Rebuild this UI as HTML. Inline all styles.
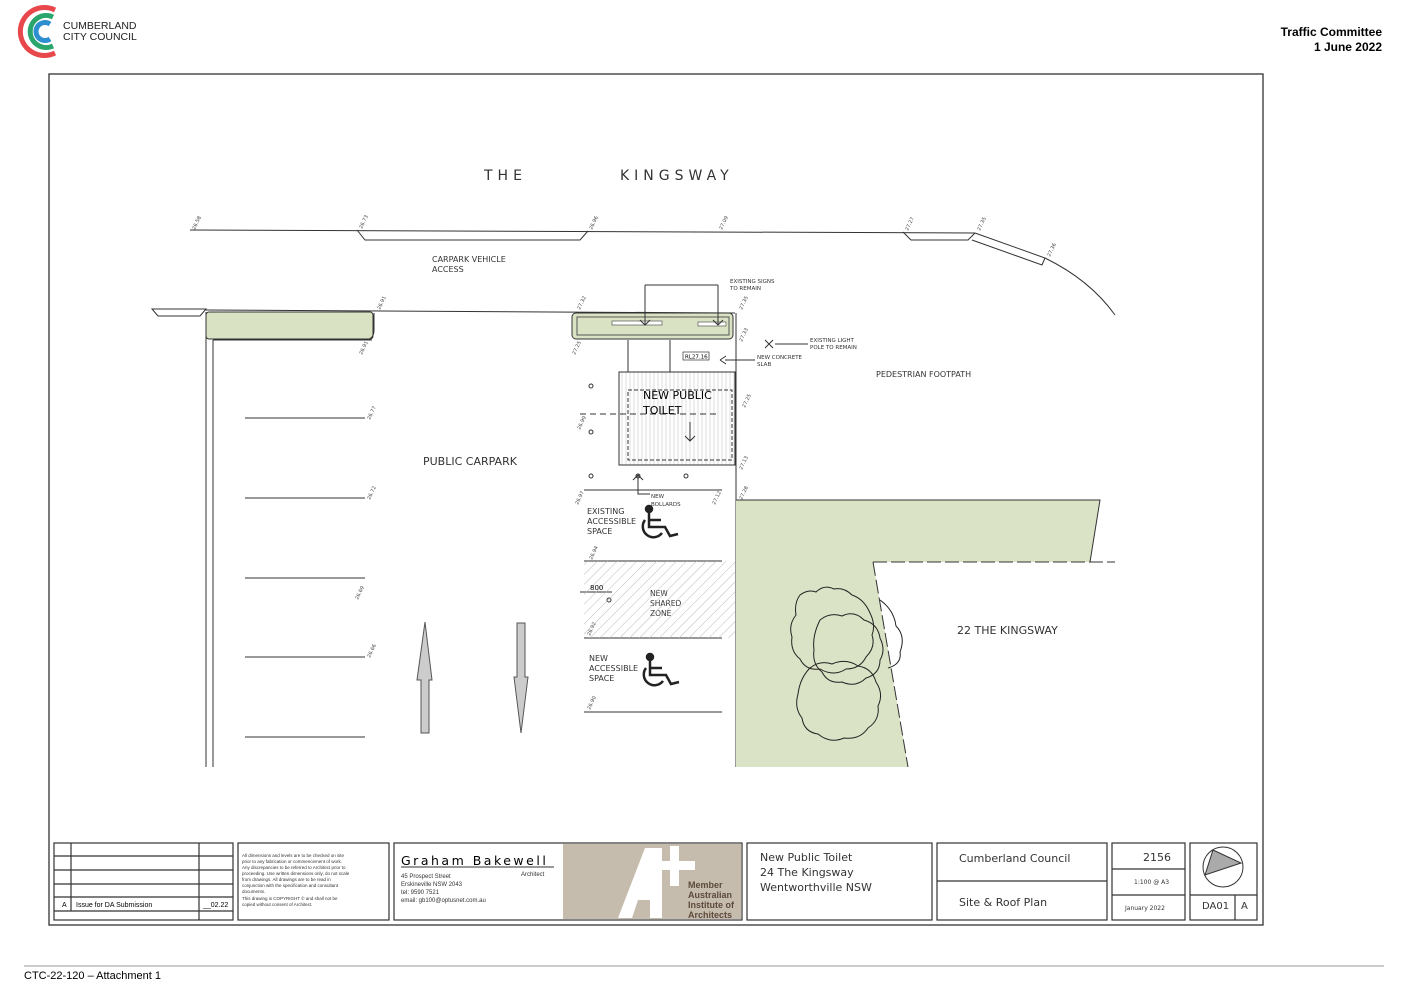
<!DOCTYPE html>
<html><head><meta charset="utf-8"><style>
html,body{margin:0;padding:0;background:#fff;}
svg{display:block;font-family:"Liberation Sans",sans-serif;}
.c{font-family:"DejaVu Sans","Liberation Sans",sans-serif;}
</style></head><body>
<svg width="1407" height="989" viewBox="0 0 1407 989" xmlns="http://www.w3.org/2000/svg">
<defs>
<pattern id="h" width="7" height="7" patternUnits="userSpaceOnUse" patternTransform="rotate(45)">
<line x1="0" y1="0" x2="0" y2="7" stroke="#bbb" stroke-width="1"/></pattern>
<pattern id="v" width="4" height="4" patternUnits="userSpaceOnUse">
<line x1="2" y1="0" x2="2" y2="4" stroke="#ddd" stroke-width="1"/></pattern>
</defs>
<!-- logo -->
<path d="M55 10 A24 24 0 1 0 55 53" fill="none" stroke="#e8484c" stroke-width="5"/>
<path d="M53 17 A16 16 0 1 0 53 46" fill="none" stroke="#2aa56b" stroke-width="5"/>
<path d="M50 24 A9 9 0 1 0 50 39" fill="none" stroke="#2e8fd0" stroke-width="5"/>
<text x="63" y="29" font-size="10.5" fill="#222">CUMBERLAND</text>
<text x="63" y="40" font-size="10.5" fill="#222">CITY COUNCIL</text>
<text x="1382" y="36" font-size="12" font-weight="bold" text-anchor="end">Traffic Committee</text>
<text x="1382" y="51" font-size="12" font-weight="bold" text-anchor="end">1 June 2022</text>
<!-- frame -->
<rect x="49" y="74" width="1214" height="851" fill="none" stroke="#333" stroke-width="1.3"/>
<line x1="24" y1="966" x2="1384" y2="966" stroke="#999" stroke-width="1"/>
<text x="24" y="979" font-size="11">CTC-22-120 – Attachment 1</text>

<g class="c" fill="#333">
<text x="484" y="180" font-size="14" letter-spacing="5">THE</text>
<text x="620" y="180" font-size="14" letter-spacing="5">KINGSWAY</text>
<text x="432" y="262" font-size="8">CARPARK VEHICLE</text>
<text x="432" y="272" font-size="8">ACCESS</text>
<text x="876" y="377" font-size="8">PEDESTRIAN FOOTPATH</text>
<text x="423" y="465" font-size="11">PUBLIC CARPARK</text>
<text x="957" y="634" font-size="11">22 THE KINGSWAY</text>
<text x="730" y="283" font-size="5.5">EXISTING SIGNS</text>
<text x="730" y="290" font-size="5.5">TO REMAIN</text>
<text x="810" y="342" font-size="5.5">EXISTING LIGHT</text>
<text x="810" y="349" font-size="5.5">POLE TO REMAIN</text>
<text x="757" y="359" font-size="5.5">NEW CONCRETE</text>
<text x="757" y="366" font-size="5.5">SLAB</text>
<text x="651" y="498" font-size="5.5">NEW</text>
<text x="651" y="506" font-size="5.5">BOLLARDS</text>
<text x="587" y="514" font-size="8">EXISTING</text>
<text x="587" y="524" font-size="8">ACCESSIBLE</text>
<text x="587" y="534" font-size="8">SPACE</text>
<text x="650" y="596" font-size="7.5">NEW</text>
<text x="650" y="606" font-size="7.5">SHARED</text>
<text x="650" y="616" font-size="7.5">ZONE</text>
<text x="589" y="661" font-size="8">NEW</text>
<text x="589" y="671" font-size="8">ACCESSIBLE</text>
<text x="589" y="681" font-size="8">SPACE</text>
<text x="774" y="560" font-size="8">EXISTING</text>
<text x="774" y="570" font-size="8">LANDSCAPED</text>
<text x="774" y="580" font-size="8">AREA</text>
</g>
<!-- level labels -->
<g class="c" font-size="5" fill="#444">
<text transform="translate(195,230) rotate(-65)">26.58</text>
<text transform="translate(362,229) rotate(-65)">26.73</text>
<text transform="translate(592,230) rotate(-65)">26.96</text>
<text transform="translate(722,230) rotate(-65)">27.09</text>
<text transform="translate(908,231) rotate(-65)">27.27</text>
<text transform="translate(980,231) rotate(-65)">27.35</text>
<text transform="translate(1050,257) rotate(-65)">27.36</text>
<text transform="translate(380,310) rotate(-65)">26.91</text>
<text transform="translate(580,310) rotate(-65)">27.32</text>
<text transform="translate(742,310) rotate(-65)">27.35</text>
<text transform="translate(742,342) rotate(-65)">27.33</text>
<text transform="translate(362,355) rotate(-65)">26.91</text>
<text transform="translate(575,355) rotate(-65)">27.25</text>
<text transform="translate(370,420) rotate(-65)">26.77</text>
<text transform="translate(580,430) rotate(-65)">26.99</text>
<text transform="translate(745,408) rotate(-65)">27.25</text>
<text transform="translate(742,470) rotate(-65)">27.13</text>
<text transform="translate(370,500) rotate(-65)">26.72</text>
<text transform="translate(578,505) rotate(-65)">26.97</text>
<text transform="translate(715,505) rotate(-65)">27.12</text>
<text transform="translate(742,500) rotate(-65)">27.28</text>
<text transform="translate(766,528) rotate(-65)">27.35</text>
<text transform="translate(592,560) rotate(-65)">26.94</text>
<text transform="translate(358,600) rotate(-65)">26.69</text>
<text transform="translate(590,636) rotate(-65)">26.92</text>
<text transform="translate(370,658) rotate(-65)">26.66</text>
<text transform="translate(590,710) rotate(-65)">26.90</text>
<text transform="translate(745,703) rotate(-65)">27.25</text>
</g>

<g fill="none" stroke="#333" stroke-width="1">
<path d="M190 230 L975 233"/>
<path d="M357 230 L365 240 L580 240 L588 231"/>
<path d="M903 232 L911 240 L968 240 L975 233"/>
<path d="M975 233 L1045 258 L1042 265 L972 240"/>
<path d="M1045 258 Q1090 280 1115 315"/>
<path d="M205 310 L735 313"/>
<path d="M152 309 L206 309 L200 316 L158 316 Z"/>
</g>
<rect x="206" y="312" width="167" height="27" rx="3" fill="#d9e3c4" stroke="#333"/>
<path d="M206 312 V767 M213 340 V767 M213 340 H372 M374 313 V330 Q374 340 364 340" fill="none" stroke="#333"/>
<rect x="572" y="313" width="161" height="26" rx="4" fill="#d9e3c4" stroke="#333"/>
<rect x="577" y="317" width="152" height="18" fill="none" stroke="#555"/>
<rect x="612" y="321" width="50" height="4" fill="#fff" stroke="#555" stroke-width=".7"/>
<rect x="698" y="322" width="28" height="4" fill="#fff" stroke="#555" stroke-width=".7"/>
<g fill="none" stroke="#333" stroke-width="1">
<path d="M645 285 H718 M645 285 V325 M718 285 V325 M640 320 L645 325 L650 320 M713 320 L718 325 L723 320"/>
<path d="M628 340 V372 M670 340 V372 M736 313 V767"/>
<path d="M775 344 H808 M725 360 H755 M720 360 L726 356 M720 360 L726 364"/>
<path d="M765 340 L773 348 M773 340 L765 348"/>
<circle cx="591" cy="386" r="2"/><circle cx="591" cy="432" r="2"/><circle cx="591" cy="476" r="2"/><circle cx="638" cy="476" r="2"/><circle cx="686" cy="476" r="2"/><circle cx="609" cy="600" r="2"/>
</g>
<rect x="683" y="352" width="26" height="8" fill="#fff" stroke="#333" stroke-width=".7"/>
<text x="685" y="358.5" font-size="5.5" class="c">RL27.16</text>
<rect x="619" y="372" width="116" height="93" fill="url(#v)" stroke="#333"/>
<rect x="628" y="390" width="104" height="70" fill="none" stroke="#333" stroke-dasharray="4 2"/>
<line x1="580" y1="414" x2="720" y2="414" stroke="#333" stroke-dasharray="6 4"/>
<text x="643" y="399" font-size="11" class="c">NEW PUBLIC</text>
<text x="643" y="414" font-size="11" class="c">TOILET</text>
<path d="M690 422 V441 M685 436 L690 441 L695 436" fill="none" stroke="#333"/>
<g stroke="#333" stroke-width="1">
<line x1="245" y1="418" x2="365" y2="418"/><line x1="245" y1="498" x2="365" y2="498"/>
<line x1="245" y1="578" x2="365" y2="578"/><line x1="245" y1="657" x2="365" y2="657"/>
<line x1="245" y1="737" x2="365" y2="737"/>
<line x1="584" y1="490" x2="722" y2="490"/><line x1="584" y1="561" x2="722" y2="561"/>
<line x1="584" y1="638" x2="722" y2="638"/><line x1="584" y1="712" x2="722" y2="712"/>
<line x1="580" y1="592" x2="612" y2="592"/>
<path d="M638 490 V475 M633 480 L638 475 L643 480 M638 490 V494 H650" fill="none"/>
</g>
<rect x="584" y="561" width="151" height="77" fill="url(#h)"/>
<text x="590" y="590" font-size="7" class="c">800</text>
<g fill="none" stroke="#222" stroke-width="2.5">
<circle cx="649" cy="509" r="3" fill="#222"/><path d="M649 513 V527 H665 L670 536 L678 534 M649 520 H661"/><path d="M645 520 A9 9 0 1 0 662 533"/>
<circle cx="650" cy="657" r="3" fill="#222"/><path d="M650 661 V675 H666 L671 684 L679 682 M650 668 H662"/><path d="M646 668 A9 9 0 1 0 663 681"/>
</g>
<!-- landscaped -->
<path d="M736 500 L1100 500 L1090 562 L873 562 L908 767 L736 767 Z" fill="#dbe3c6"/>
<path d="M736 500 L1100 500 L1090 562" fill="none" stroke="#333"/>
<path d="M873 562 L908 767" fill="none" stroke="#333" stroke-dasharray="14 4"/>
<line x1="873" y1="562" x2="1115" y2="562" stroke="#333" stroke-dasharray="14 4"/>
<g fill="none" stroke="#222" stroke-width="1">
<path d="M800 595 q8-6 16-3 q8-8 18-3 q10-2 18 6 q12 4 18 18 q6 12 2 22 q4 12-6 22 q-6 12-20 12 q-12 8-26 0 q-14 2-20-10 q-10-8-8-22 q-4-12 4-22 q-2-12 4-20z"/>
<path d="M820 620 q10-8 22-4 q12-6 22 4 q14 4 16 18 q6 12 0 22 q0 14-14 18 q-10 10-24 4 q-14 2-20-10 q-10-8-8-22 q-2-14 6-30z"/>
<path d="M810 668 q10-8 22-4 q14-6 26 2 q14 2 18 16 q8 12 2 24 q2 14-10 22 q-8 12-24 10 q-14 6-26-4 q-14-2-16-16 q-8-10-4-24 q2-16 12-26z"/>
<path d="M880 600 q14 10 16 26 q10 10 4 26 q2 12-12 16"/>
</g>
<path d="M425 622 L432 680 L429 680 L429 733 L421 733 L421 680 L417 680 Z" fill="#ccc" stroke="#555"/>
<path d="M521 733 L528 677 L525 677 L525 623 L517 623 L517 677 L514 677 Z" fill="#ccc" stroke="#555"/>

<!-- title block -->
<g fill="none" stroke="#333" stroke-width="1.2">
<rect x="54" y="843" width="179" height="77"/>
<path d="M54 856 H233 M54 870 H233 M54 884 H233 M54 897 H233 M54 911 H233 M71 843 V911 M199 843 V920"/>
<rect x="238" y="843" width="151" height="77"/>
<rect x="394" y="843" width="348" height="77"/>
<rect x="747" y="843" width="185" height="77"/>
<rect x="937" y="843" width="170" height="77"/>
<path d="M937 881 H1107"/>
<rect x="1112" y="843" width="73" height="77"/>
<path d="M1112 869 H1185 M1112 895 H1185"/>
<rect x="1190" y="843" width="67" height="77"/>
<path d="M1190 895 H1257 M1235 895 V920"/>
</g>
<rect x="563" y="844" width="178" height="75" fill="#c6bcae"/>
<path d="M618 918 L645 848 L662 848 L662 918 L650 918 L650 900 L638 900 L632 918 Z" fill="#fff"/>
<rect x="670" y="846" width="9" height="40" fill="#fff"/>
<rect x="655" y="861" width="40" height="9" fill="#fff"/>
<text x="62" y="907" font-size="7">A</text><text x="76" y="907" font-size="7">Issue for DA Submission</text>
<text x="203" y="907" font-size="7">__02.22</text>
<g font-size="4.5" fill="#333">
<text x="242" y="857">All dimensions and levels are to be checked on site</text>
<text x="242" y="863">prior to any fabrication or commencement of work.</text>
<text x="242" y="869">Any discrepancies to be referred to Architect prior to</text>
<text x="242" y="875">proceeding. Use written dimensions only, do not scale</text>
<text x="242" y="881">from drawings. All drawings are to be read in</text>
<text x="242" y="887">conjunction with the specification and consultant</text>
<text x="242" y="893">documents.</text>
<text x="242" y="900">This drawing is COPYRIGHT © and shall not be</text>
<text x="242" y="906">copied without consent of Architect.</text>
</g>
<text x="401" y="865" font-size="12.5" letter-spacing="2.5" class="c">Graham Bakewell</text>
<line x1="401" y1="867" x2="554" y2="867" stroke="#333"/>
<g font-size="6" fill="#333"><text x="401" y="878">45 Prospect Street</text><text x="401" y="886">Erskineville NSW 2043</text><text x="401" y="894">tel: 9590 7521</text><text x="401" y="902">email: gb100@optusnet.com.au</text><text x="521" y="876">Architect</text></g>
<g font-size="9" font-weight="bold" fill="#5b4a3a"><text x="688" y="888">Member</text><text x="688" y="898">Australian</text><text x="688" y="908">Institute of</text><text x="688" y="918">Architects</text></g>
<g class="c" fill="#333">
<text x="760" y="861" font-size="11">New Public Toilet</text>
<text x="760" y="876" font-size="11">24 The Kingsway</text>
<text x="760" y="891" font-size="11">Wentworthville NSW</text>
<text x="959" y="862" font-size="11">Cumberland Council</text>
<text x="959" y="906" font-size="11">Site &amp; Roof Plan</text>
<text x="1143" y="861" font-size="11">2156</text>
<text x="1134" y="884" font-size="6">1:100 @ A3</text>
<text x="1125" y="910" font-size="6">January 2022</text>
<text x="1202" y="909" font-size="10">DA01</text>
<text x="1241" y="909" font-size="10">A</text>
</g>
<circle cx="1223" cy="867" r="20" fill="none" stroke="#333"/>
<path d="M1213 850 L1241 863 L1205 875 Z" fill="#aaa" stroke="#333"/>
</svg>
</body></html>
